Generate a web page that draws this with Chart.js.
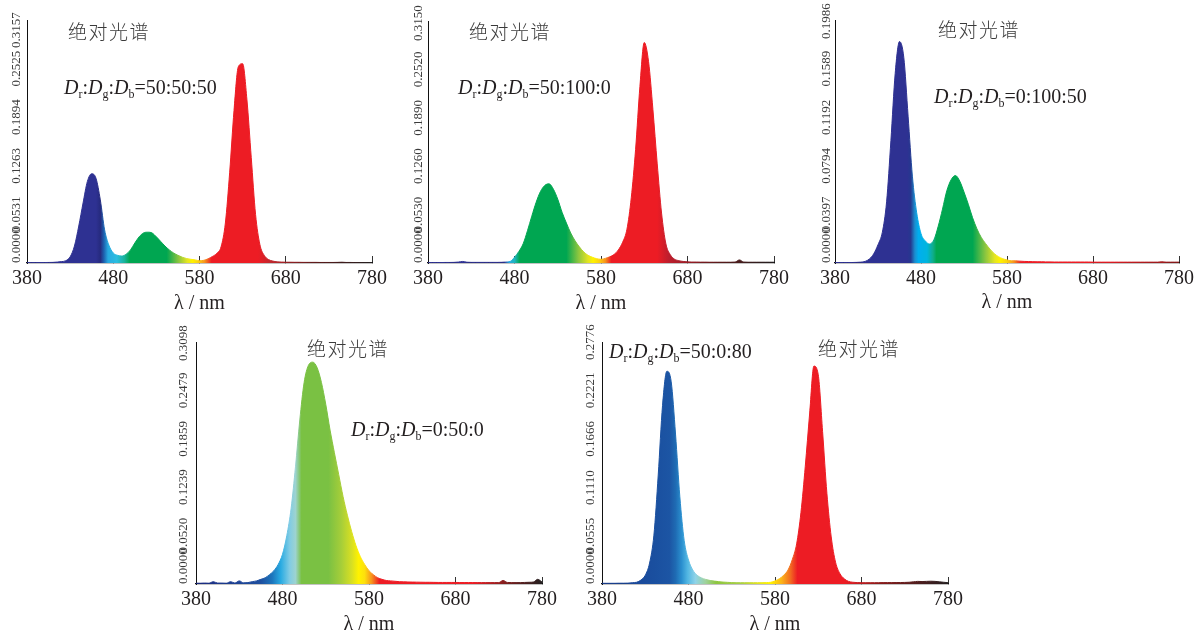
<!DOCTYPE html>
<html>
<head>
<meta charset="utf-8">
<script src="https://cdn.jsdelivr.net/npm/chart.js@4.4.1/dist/chart.umd.min.js"></script>
<style>
html, body { margin: 0; padding: 0; background: #ffffff; }
#wrap { position: relative; width: 1196px; height: 637px; overflow: hidden; background: #ffffff; }
#wrap canvas { position: absolute; }
</style>
</head>
<body>
<div id="wrap"></div>
<script>
// ---------------- data ----------------
const wavelengths = [380,385,390,395,400,405,410,415,420,425,
  430,435,440,445,450,455,460,465,470,475,
  480,485,490,495,500,505,510,515,520,525,
  530,535,540,545,550,555,560,565,570,575,
  580,585,590,595,600,605,610,615,620,625,
  630,635,640,645,650,655,660,665,670,675,
  680,685,690,695,700,705,710,715,720,725,
  730,735,740,745,750,755,760,765,770,775,780];

const xTickValues = [380, 480, 580, 680, 780];

// D_r:D_g:D_b = 50:50:50
const spectrum_50_50_50 = [
  0.0005,0.0005,0.0005,0.0006,0.0006,0.0007,0.0008,0.0012,0.0018,0.0030,
  0.0080,0.0220,0.0480,0.0780,0.1060,0.1160,0.1100,0.0820,0.0430,0.0230,
  0.0130,0.0100,0.0090,0.0115,0.0170,0.0260,0.0340,0.0390,0.0400,0.0390,
  0.0340,0.0280,0.0220,0.0170,0.0130,0.0100,0.0075,0.0058,0.0048,0.0040,
  0.0030,0.0035,0.0055,0.0085,0.0125,0.0210,0.0520,0.1180,0.1980,0.2550,
  0.2590,0.2120,0.1370,0.0630,0.0240,0.0100,0.0045,0.0025,0.0015,0.0012,
  0.0010,0.0010,0.0009,0.0009,0.0008,0.0008,0.0008,0.0008,0.0007,0.0007,
  0.0007,0.0007,0.0008,0.0010,0.0007,0.0007,0.0006,0.0006,0.0006,0.0006,0.0006];

// D_r:D_g:D_b = 50:100:0
const spectrum_50_100_0 = [
  0.0006,0.0006,0.0006,0.0006,0.0007,0.0007,0.0008,0.0012,0.0020,0.0010,
  0.0008,0.0008,0.0008,0.0008,0.0008,0.0008,0.0008,0.0009,0.0012,0.0020,
  0.0075,0.0150,0.0250,0.0420,0.0610,0.0790,0.0930,0.1010,0.1030,0.0960,
  0.0830,0.0660,0.0520,0.0390,0.0290,0.0210,0.0145,0.0100,0.0075,0.0056,
  0.0048,0.0060,0.0080,0.0110,0.0170,0.0270,0.0440,0.0850,0.1480,0.2300,
  0.2870,0.2620,0.2000,0.1290,0.0650,0.0250,0.0110,0.0050,0.0030,0.0020,
  0.0015,0.0012,0.0012,0.0011,0.0011,0.0010,0.0010,0.0010,0.0010,0.0010,
  0.0010,0.0012,0.0040,0.0012,0.0010,0.0010,0.0010,0.0010,0.0010,0.0010,0.0010];

// D_r:D_g:D_b = 0:100:50
const spectrum_0_100_50 = [
  0.0004,0.0004,0.0004,0.0004,0.0004,0.0005,0.0007,0.0013,0.0033,0.0075,
  0.0150,0.0250,0.0500,0.1000,0.1550,0.1810,0.1680,0.1200,0.0710,0.0410,
  0.0240,0.0180,0.0155,0.0190,0.0300,0.0440,0.0590,0.0680,0.0715,0.0670,
  0.0580,0.0480,0.0370,0.0280,0.0210,0.0160,0.0115,0.0078,0.0052,0.0035,
  0.0025,0.0018,0.0018,0.0015,0.0013,0.0012,0.0011,0.0010,0.0010,0.0009,
  0.0009,0.0008,0.0008,0.0008,0.0008,0.0008,0.0008,0.0008,0.0008,0.0008,
  0.0007,0.0007,0.0007,0.0007,0.0007,0.0007,0.0007,0.0007,0.0007,0.0007,
  0.0007,0.0007,0.0007,0.0007,0.0007,0.0007,0.0010,0.0007,0.0007,0.0007,0.0007];

// D_r:D_g:D_b = 0:50:0
const spectrum_0_50_0 = [
  0.0010,0.0010,0.0012,0.0010,0.0030,0.0012,0.0012,0.0010,0.0030,0.0012,
  0.0040,0.0015,0.0018,0.0030,0.0040,0.0060,0.0080,0.0120,0.0170,0.0250,
  0.0380,0.0620,0.0970,0.1500,0.2100,0.2580,0.2800,0.2840,0.2770,0.2580,
  0.2300,0.1970,0.1680,0.1400,0.1120,0.0880,0.0670,0.0490,0.0350,0.0250,
  0.0170,0.0120,0.0080,0.0060,0.0045,0.0040,0.0035,0.0030,0.0028,0.0026,
  0.0025,0.0024,0.0023,0.0022,0.0022,0.0021,0.0020,0.0020,0.0020,0.0020,
  0.0020,0.0019,0.0019,0.0019,0.0019,0.0018,0.0018,0.0018,0.0018,0.0018,
  0.0018,0.0045,0.0020,0.0018,0.0018,0.0018,0.0020,0.0022,0.0025,0.0060,0.0025];

// D_r:D_g:D_b = 50:0:80
const spectrum_50_0_80 = [
  0.0008,0.0008,0.0008,0.0008,0.0009,0.0009,0.0010,0.0015,0.0020,0.0045,
  0.0100,0.0240,0.0560,0.1250,0.2050,0.2440,0.2320,0.1720,0.1000,0.0500,
  0.0275,0.0160,0.0100,0.0070,0.0052,0.0040,0.0033,0.0027,0.0022,0.0019,
  0.0016,0.0015,0.0015,0.0015,0.0015,0.0015,0.0015,0.0015,0.0016,0.0020,
  0.0035,0.0060,0.0100,0.0160,0.0280,0.0460,0.0820,0.1350,0.1950,0.2500,
  0.2400,0.1750,0.1040,0.0540,0.0250,0.0120,0.0060,0.0030,0.0020,0.0016,
  0.0015,0.0015,0.0015,0.0015,0.0015,0.0016,0.0016,0.0016,0.0017,0.0017,
  0.0018,0.0020,0.0025,0.0030,0.0028,0.0030,0.0032,0.0030,0.0025,0.0020,0.0015];

// y tick labels (as printed)
const yTicks_50_50_50 = ['0.0000','0.0531','0.1263','0.1894','0.2525','0.3157'];
const yTicks_50_100_0 = ['0.0000','0.0530','0.1260','0.1890','0.2520','0.3150'];
const yTicks_0_100_50 = ['0.0000','0.0397','0.0794','0.1192','0.1589','0.1986'];
const yTicks_0_50_0   = ['0.0000','0.0520','0.1239','0.1859','0.2479','0.3098'];
const yTicks_50_0_80  = ['0.0000','0.0555','0.1110','0.1666','0.2221','0.2776'];

const ratioLabels = ['50:50:50', '50:100:0', '0:100:50', '0:50:0', '50:0:80'];
const panelTitle = '绝对光谱';
const xAxisTitle = 'λ / nm';

// ---------------- layout & style ----------------
const panels = [
  { values: spectrum_50_50_50, yLabels: yTicks_50_50_50, ratio: ratioLabels[0],
    canvas: [0, 0, 400, 320], axis: { l: 27, r: 372, t: 20, b: 263 }, gap: 10, topShift: 10,
    titlePos: [68, 32], ratioPos: [64, 94], titlePad: 4,
    stops: [[380,'#2e3192'],[460,'#2e3192'],[465,'#262a7e'],[469,'#1d5fae'],[474,'#27aae1'],[484,'#2bbde0'],
            [493,'#19b39a'],[499,'#00a651'],[542,'#00a651'],[556,'#8dc63f'],[566,'#e6e621'],[572,'#fff200'],
            [578,'#fbd40f'],[586,'#f7941d'],[594,'#ed1c24'],[648,'#ed1c24'],[662,'#c1272d'],[720,'#5a1a1a'],[780,'#231f20']] },
  { values: spectrum_50_100_0, yLabels: yTicks_50_100_0, ratio: ratioLabels[1],
    canvas: [400, 0, 400, 320], axis: { l: 428, r: 774, t: 21, b: 263 }, gap: 9.5, topShift: 2,
    titlePos: [469, 32], ratioPos: [458, 94], titlePad: 4,
    stops: [[380,'#2e3192'],[468,'#2e3192'],[474,'#27aae1'],[480,'#1fb5c0'],[486,'#00a651'],[540,'#00a651'],
            [554,'#8dc63f'],[565,'#e3e422'],[571,'#fff200'],[578,'#fcd20f'],[585,'#f7941d'],[592,'#ed1c24'],
            [645,'#ed1c24'],[658,'#be1e2d'],[720,'#5a1a1a'],[780,'#231f20']] },
  { values: spectrum_0_100_50, yLabels: yTicks_0_100_50, ratio: ratioLabels[2],
    canvas: [795, 0, 420, 320], axis: { l: 835, r: 1179, t: 20, b: 263 }, gap: 8, topShift: 1,
    titlePos: [938, 30], ratioPos: [934, 103], titlePad: 5,
    stops: [[380,'#2e3192'],[464,'#2e3192'],[468,'#25388f'],[473,'#1b8fd0'],[477,'#00aeef'],[487,'#00b5de'],
            [494,'#10ad8a'],[498,'#00a651'],[540,'#00a651'],[555,'#8dc63f'],[566,'#e6e621'],[572,'#fff200'],
            [580,'#fbd40f'],[588,'#f7941d'],[596,'#ed1c24'],[700,'#ed1c24'],[780,'#8b1a1a']] },
  { values: spectrum_0_50_0, yLabels: yTicks_0_50_0, ratio: ratioLabels[3],
    canvas: [140, 320, 440, 317], axis: { l: 196, r: 542, t: 342, b: 584 }, gap: 12, topShift: 1,
    titlePos: [307, 349], ratioPos: [351, 436], titlePad: 0,
    stops: [[380,'#1b2a80'],[455,'#1e4f9f'],[468,'#1c75bc'],[478,'#29abe2'],[488,'#7fcbe4'],[495,'#9dd3d0'],
            [502,'#7ac143'],[533,'#7ac143'],[548,'#a6ce39'],[560,'#d7df23'],[568,'#fff200'],[575,'#fde00d'],
            [583,'#f7941d'],[592,'#ed1c24'],[700,'#ed1c24'],[740,'#7a1e1e'],[780,'#231f20']] },
  { values: spectrum_50_0_80, yLabels: yTicks_50_0_80, ratio: ratioLabels[4],
    canvas: [560, 320, 440, 317], axis: { l: 602, r: 948, t: 342, b: 584 }, gap: 11, topShift: 0,
    titlePos: [818, 349], ratioPos: [609, 358], titlePad: 0,
    stops: [[380,'#1a3d8f'],[440,'#1a4f9f'],[458,'#1c55a4'],[465,'#1f6bb3'],[472,'#2a8fcf'],[479,'#52b7e3'],
            [488,'#8fd3e8'],[500,'#9fd29a'],[512,'#8dc63f'],[540,'#a8cf45'],[560,'#e0e325'],[575,'#fff200'],
            [588,'#fbb01a'],[598,'#f26a21'],[606,'#ed1c24'],[660,'#ed1c24'],[700,'#8b1a1a'],[780,'#231f20']] }
];

const SERIF = 'Liberation Serif';
const TEXT_COLOR = '#231f20';

function spectralGradient(stops) {
  return (c) => {
    const chart = c.chart;
    const xs = chart.scales && chart.scales.x;
    if (!chart.chartArea || !xs) return stops[0][1];
    const x0 = xs.getPixelForValue(380), x1 = xs.getPixelForValue(780);
    const g = chart.ctx.createLinearGradient(x0, 0, x1, 0);
    for (const [nm, col] of stops) g.addColorStop(Math.min(1, Math.max(0, (nm - 380) / 400)), col);
    return g;
  };
}

function textPlugin(p) {
  return {
    id: 'panelText',
    afterDraw(chart) {
      const ctx = chart.ctx;
      const ox = p.canvas[0], oy = p.canvas[1];
      ctx.save();
      // chinese heading
      ctx.fillStyle = '#3a3a3a';
      ctx.font = '300 19px "Noto Sans CJK SC"';
      ctx.textAlign = 'left';
      ctx.textBaseline = 'middle';
      if ('letterSpacing' in ctx) ctx.letterSpacing = '1.5px';
      ctx.fillText(panelTitle, p.titlePos[0] - ox, p.titlePos[1] - oy);
      if ('letterSpacing' in ctx) ctx.letterSpacing = '0px';
      // ratio annotation with italic D and subscripts
      ctx.fillStyle = TEXT_COLOR;
      ctx.textBaseline = 'alphabetic';
      let x = p.ratioPos[0] - ox;
      const y = p.ratioPos[1] - oy;
      const segs = [['D','i'],['r','s'],[':','n'],['D','i'],['g','s'],[':','n'],['D','i'],['b','s'],['=' + p.ratio,'n']];
      for (const [t, k] of segs) {
        ctx.font = k === 'i' ? 'italic 20px "' + SERIF + '"' : (k === 's' ? '12px "' + SERIF + '"' : '20px "' + SERIF + '"');
        ctx.fillText(t, x, k === 's' ? y + 4 : y);
        x += ctx.measureText(t).width;
      }
      ctx.restore();
    }
  };
}

const wrap = document.getElementById('wrap');

function makeChart(p) {
  const [cx, cy, cw, ch] = p.canvas;
  const cv = document.createElement('canvas');
  cv.width = cw; cv.height = ch;
  cv.style.left = cx + 'px'; cv.style.top = cy + 'px';
  cv.style.width = cw + 'px'; cv.style.height = ch + 'px';
  wrap.appendChild(cv);
  const ax = { l: p.axis.l - cx, r: p.axis.r - cx, t: p.axis.t - cy, b: p.axis.b - cy };
  const yMax = parseFloat(p.yLabels[p.yLabels.length - 1]);
  const nSteps = p.yLabels.length - 1;
  const grad = spectralGradient(p.stops);
  const yTickFont = { family: SERIF, size: 13 };

  new Chart(cv, {
    type: 'line',
    data: {
      datasets: [{
        data: wavelengths.map((w, i) => ({ x: w, y: p.values[i] })),
        xAxisID: 'x', yAxisID: 'y',
        fill: 'origin',
        backgroundColor: grad,
        borderColor: grad,
        borderWidth: 1,
        pointRadius: 0,
        pointHoverRadius: 0,
        cubicInterpolationMode: 'monotone'
      }]
    },
    options: {
      responsive: false,
      animation: false,
      events: [],
      layout: { padding: { left: ax.l, right: cw - ax.r, top: ax.t, bottom: 0 } },
      plugins: { legend: { display: false }, tooltip: { enabled: false }, title: { display: false } },
      scales: {
        x: {
          type: 'linear', axis: 'x', position: 'bottom', min: 380, max: 780, z: 1,
          afterBuildTicks: s => { s.ticks = xTickValues.map(v => ({ value: v })); },
          afterFit: s => { s.height = ch - ax.b; },
          border: { display: true, color: '#111111', width: 1.3 },
          grid: { display: true, drawOnChartArea: false, drawTicks: true, tickLength: -7, tickColor: '#333333', tickWidth: 1 },
          ticks: { autoSkip: false, minRotation: 0, maxRotation: 0, padding: 10.5, color: TEXT_COLOR,
                   font: { family: SERIF, size: 20 }, callback: v => String(v) },
          title: { display: true, text: xAxisTitle, color: TEXT_COLOR, font: { family: SERIF, size: 20 },
                   padding: { top: 0, bottom: p.titlePad } }
        },
        y: {
          type: 'linear', axis: 'y', position: 'left', weight: 0, min: 0, max: yMax, z: 1,
          afterBuildTicks: s => { s.ticks = [1, 2, 3, 4].map(i => ({ value: yMax * i / nSteps })); },
          afterFit: s => { s.width = 0; },
          border: { display: true, color: '#111111', width: 1 },
          grid: { display: false, drawTicks: false },
          ticks: { autoSkip: false, minRotation: 90, maxRotation: 90, mirror: true, crossAlign: 'near',
                   labelOffset: 17.9, padding: -p.gap, color: '#3b3b3b', font: yTickFont,
                   callback: v => p.yLabels[Math.round(v / yMax * nSteps)] }
        },
        y0: {
          type: 'linear', axis: 'y', position: 'left', weight: 1, min: 0, max: yMax, z: 1,
          afterBuildTicks: s => { s.ticks = [{ value: 0 }]; },
          afterFit: s => { s.width = 0; },
          border: { display: false },
          grid: { display: false, drawTicks: false },
          ticks: { autoSkip: false, minRotation: 90, maxRotation: 90, mirror: true, crossAlign: 'near',
                   labelOffset: 0, padding: -p.gap, color: '#3b3b3b', font: yTickFont,
                   callback: () => p.yLabels[0] }
        },
        yTop: {
          type: 'linear', axis: 'y', position: 'left', weight: 2, min: 0, max: yMax, z: 1,
          afterBuildTicks: s => { s.ticks = [{ value: yMax }]; },
          afterFit: s => { s.width = 0; },
          border: { display: false },
          grid: { display: false, drawTicks: false },
          ticks: { autoSkip: false, minRotation: 90, maxRotation: 90, mirror: true, crossAlign: 'near',
                   labelOffset: 17.9 + p.topShift, padding: -p.gap, color: '#3b3b3b', font: yTickFont,
                   callback: () => p.yLabels[nSteps] }
        }
      }
    },
    plugins: [textPlugin(p)]
  });
}

panels.forEach(makeChart);
</script>
</body>
</html>
